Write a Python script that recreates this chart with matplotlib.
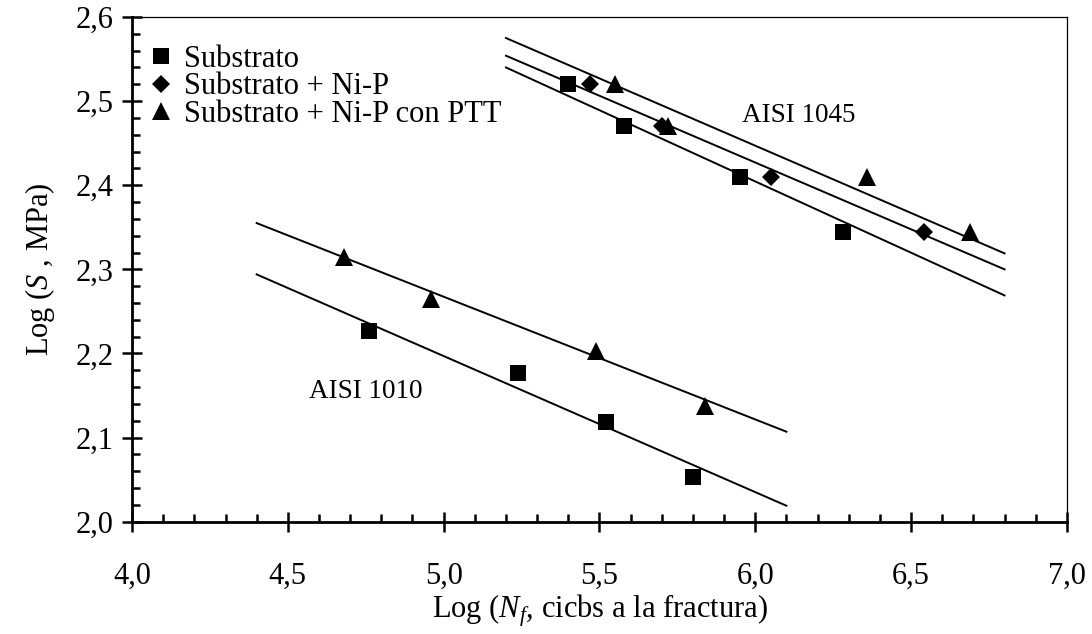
import matplotlib
matplotlib.use("Agg")
import matplotlib.pyplot as plt
from matplotlib.ticker import MultipleLocator, FuncFormatter

plt.rcParams['font.family'] = ['Liberation Serif', 'DejaVu Serif']
plt.rcParams['mathtext.fontset'] = 'custom'
plt.rcParams['mathtext.rm'] = 'Liberation Serif'
plt.rcParams['mathtext.it'] = 'Liberation Serif:italic'

# ---- data ----
series_labels = ["Substrato", "Substrato + Ni-P", "Substrato + Ni-P con PTT"]

x_1045_sub = [5.40, 5.58, 5.95, 6.28]
y_1045_sub = [2.520, 2.470, 2.410, 2.345]
x_1045_nip = [5.47, 5.70, 6.05, 6.54]
y_1045_nip = [2.520, 2.470, 2.410, 2.345]
x_1045_ptt = [5.55, 5.72, 6.36, 6.69]
y_1045_ptt = [2.520, 2.470, 2.410, 2.345]

x_1010_sub = [4.76, 5.24, 5.52, 5.80]
y_1010_sub = [2.227, 2.177, 2.119, 2.053]
x_1010_ptt = [4.68, 4.96, 5.49, 5.84]
y_1010_ptt = [2.315, 2.265, 2.203, 2.137]

# trend lines (end points)
fit_1045_x = [5.2, 6.8]
fit_1045_sub_y = [2.540, 2.269]
fit_1045_nip_y = [2.554, 2.300]
fit_1045_ptt_y = [2.575, 2.319]
fit_1010_x = [4.4, 6.1]
fit_1010_sub_y = [2.294, 2.019]
fit_1010_ptt_y = [2.355, 2.107]

x_ticks = [4.0, 4.5, 5.0, 5.5, 6.0, 6.5, 7.0]
y_ticks = [2.0, 2.1, 2.2, 2.3, 2.4, 2.5, 2.6]

# ---- figure ----
fig = plt.figure(figsize=(10.92, 6.34), dpi=100)
ax = fig.add_axes([0.1209, 0.1771, 0.8561, 0.7961])

lw_fit = 1.4
for fx, fy in [(fit_1045_x, fit_1045_sub_y), (fit_1045_x, fit_1045_nip_y),
               (fit_1045_x, fit_1045_ptt_y), (fit_1010_x, fit_1010_sub_y),
               (fit_1010_x, fit_1010_ptt_y)]:
    ax.plot(fx, fy, color='black', lw=lw_fit, zorder=2)

sq = dict(marker='s', ms=11.5, color='black', mew=0, ls='none', zorder=3)
dm = dict(marker='D', ms=9.3, color='black', mew=0, ls='none', zorder=3)
tr = dict(marker='^', ms=12.5, color='black', mew=0, ls='none', zorder=3)

h1, = ax.plot(x_1045_sub, y_1045_sub, label=series_labels[0], **sq)
h2, = ax.plot(x_1045_nip, y_1045_nip, label=series_labels[1], **dm)
h3, = ax.plot(x_1045_ptt, y_1045_ptt, label=series_labels[2], **tr)
ax.plot(x_1010_sub, y_1010_sub, **sq)
ax.plot(x_1010_ptt, y_1010_ptt, **tr)

ax.text(6.14, 2.483, "AISI 1045", fontsize=19.5, ha='center', va='center')
ax.text(4.75, 2.155, "AISI 1010", fontsize=19.5, ha='center', va='center')

ax.set_xlim(4.0, 7.0)
ax.set_ylim(2.0, 2.6)
ax.set_xticks(x_ticks)
ax.set_yticks(y_ticks)
ax.xaxis.set_minor_locator(MultipleLocator(0.1))
ax.yaxis.set_minor_locator(MultipleLocator(0.02))
fmt = FuncFormatter(lambda v, p: f"{v:.1f}".replace('.', ','))
ax.xaxis.set_major_formatter(fmt)
ax.yaxis.set_major_formatter(fmt)

ax.tick_params(axis='both', which='major', direction='inout', length=14,
               width=1.8, labelsize=22, color='black')
ax.tick_params(axis='both', which='minor', direction='in', length=5.5,
               width=1.8, color='black')
ax.tick_params(axis='x', which='major', pad=22)
ax.tick_params(axis='y', which='major', pad=6)

for s in ['left', 'bottom']:
    ax.spines[s].set_linewidth(2.0)
for s in ['top', 'right']:
    ax.spines[s].set_linewidth(0.9)

ax.set_xlabel(r"Log ($N_f$, cicbs a la fractura)", fontsize=22)
ax.set_ylabel(r"Log ($S$ , MPa)", fontsize=22)
ax.xaxis.set_label_coords(0.5, -0.14)
ax.yaxis.set_label_coords(-0.08, 0.5)

leg = ax.legend(handles=[h1, h2, h3], loc='upper left',
                bbox_to_anchor=(0.011, 0.963), frameon=False, fontsize=22,
                handlelength=0.6, handletextpad=0.45, labelspacing=-0.05,
                borderaxespad=0.0, markerscale=1.0, borderpad=0.3)

fig.savefig("out.png", dpi=100)
